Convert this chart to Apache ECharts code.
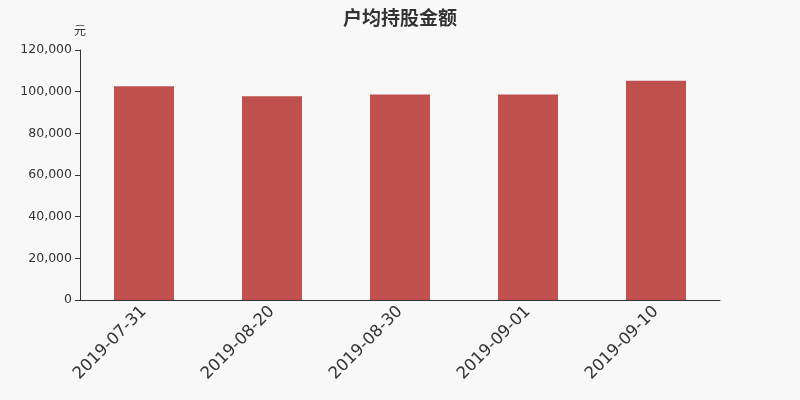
<!DOCTYPE html>
<html>
<head>
<meta charset="utf-8">
<script src="https://cdn.jsdelivr.net/npm/echarts@6/dist/echarts.min.js"></script>
<style>
  html, body { margin: 0; padding: 0; background: #f8f8f8; }
  #chart { width: 800px; height: 400px; }
</style>
</head>
<body>
<div id="chart"></div>
<script>
const categories = ['2019-07-31', '2019-08-20', '2019-08-30', '2019-09-01', '2019-09-10']
const amounts = [102600, 97800, 98600, 98600, 105300]
const yTicks = { min: 0, max: 120000, interval: 20000 }

const myChart = echarts.init(document.getElementById('chart'))
myChart.setOption({
  backgroundColor: '#f8f8f8',
  animation: false,
  title: {
    text: '户均持股金额',
    left: 'center',
    top: 3,
    textStyle: { fontSize: 19, fontWeight: 'bold', color: '#333', fontFamily: 'Noto Sans CJK SC' }
  },
  grid: { left: 80, right: 80, top: 50, bottom: 100 },
  xAxis: {
    type: 'category',
    data: categories,
    axisLine: { lineStyle: { color: '#333' } },
    axisTick: { lineStyle: { color: '#333' } },
    axisLabel: { rotate: 45, fontSize: 16.5, color: '#333', margin: 9, fontFamily: 'DejaVu Sans' }
  },
  yAxis: {
    type: 'value',
    name: '元',
    nameGap: 14,
    nameTextStyle: { color: '#333', fontSize: 12, align: 'center', fontFamily: 'Noto Sans CJK SC' },
    min: yTicks.min,
    max: yTicks.max,
    interval: yTicks.interval,
    axisLine: { show: true, lineStyle: { color: '#333' } },
    axisTick: { show: true, lineStyle: { color: '#333' } },
    axisLabel: { color: '#333', fontSize: 12.5, fontFamily: 'DejaVu Sans' },
    splitLine: { show: false }
  },
  series: [{
    type: 'bar',
    data: amounts,
    barWidth: 60,
    itemStyle: { color: '#c0504d' }
  }]
})
</script>
</body>
</html>
